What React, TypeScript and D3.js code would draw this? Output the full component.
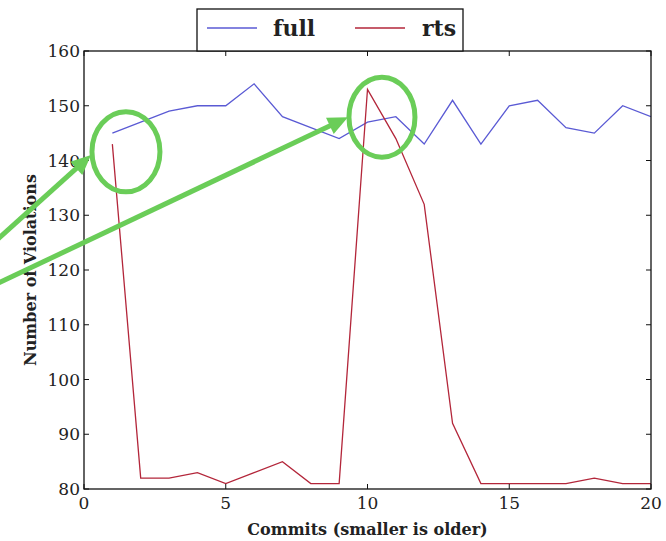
import React from "react";
import * as d3 from "d3";

const commits = [1, 2, 3, 4, 5, 6, 7, 8, 9, 10, 11, 12, 13, 14, 15, 16, 17, 18, 19, 20];
const fullValues = [145, 147, 149, 150, 150, 154, 148, 146, 144, 147, 148, 143, 151, 143, 150, 151, 146, 145, 150, 148];
const rtsValues = [143, 82, 82, 83, 81, 83, 85, 81, 81, 153, 144, 132, 92, 81, 81, 81, 81, 82, 81, 81];
const xTicks = [0, 5, 10, 15, 20];
const yTicks = [80, 90, 100, 110, 120, 130, 140, 150, 160];
const seriesNames = ["full", "rts"];
const seriesColors = ["#5a5ad4", "#b3263a"];

// annotation circles (data-space centers) and arrows (data-space tips)
const circles = [
  { x: 1.48, y: 141.6, rx: 34, ry: 40 },
  { x: 10.51, y: 147.9, rx: 33, ry: 40 },
];
const arrows = [
  { x: 0.25, y: 141.0, fromX: -12, fromY: 248 },
  { x: 9.31, y: 147.9, fromX: -12, fromY: 288 },
];

const W = 666;
const H = 541;
const m = { left: 84, right: 15, top: 51, bottom: 52 };

export default function App() {
  const x = d3.scaleLinear().domain([0, 20]).range([m.left, W - m.right]);
  const y = d3.scaleLinear().domain([80, 160]).range([H - m.bottom, m.top]);
  const line = d3
    .line<number>()
    .x((_, i) => x(commits[i]))
    .y((d) => y(d));
  const series = [fullValues, rtsValues];
  const green = "#6acd58";
  const font = "'DejaVu Serif', serif";
  const x0 = m.left;
  const x1 = W - m.right;
  const y0 = H - m.bottom;
  const y1 = m.top;

  const arrowPath = (a: typeof arrows[0]) => {
    const tx = x(a.x);
    const ty = y(a.y);
    const dx = tx - a.fromX;
    const dy = ty - a.fromY;
    const len = Math.hypot(dx, dy);
    const ux = dx / len;
    const uy = dy / len;
    const px = -uy;
    const py = ux;
    const headL = 20;
    const headW = 9;
    const bx = tx - ux * headL;
    const by = ty - uy * headL;
    return {
      shaft: [a.fromX, a.fromY, bx + ux * 2, by + uy * 2],
      head: `${tx},${ty} ${bx + px * headW},${by + py * headW} ${bx - px * headW},${by - py * headW}`,
    };
  };

  return (
    <svg
      width={W}
      height={H}
      style={{ position: "absolute", left: 0, top: 0, background: "#fff" }}
      fontFamily={font}
    >
      <rect x={0} y={0} width={W} height={H} fill="#fff" />
      <defs>
        <clipPath id="clip">
          <rect x={x0} y={y1} width={x1 - x0} height={y0 - y1} />
        </clipPath>
      </defs>
      {/* lines */}
      <g clipPath="url(#clip)">
        {series.map((s, i) => (
          <path key={i} d={line(s) || ""} fill="none" stroke={seriesColors[i]} strokeWidth={1.3} />
        ))}
      </g>
      {/* frame */}
      <rect x={x0} y={y1} width={x1 - x0} height={y0 - y1} fill="none" stroke="#111" strokeWidth={1.3} />
      {/* x ticks */}
      {xTicks.map((t) => (
        <g key={"x" + t}>
          <line x1={x(t)} x2={x(t)} y1={y0} y2={y0 - 5} stroke="#111" />
          <line x1={x(t)} x2={x(t)} y1={y1} y2={y1 + 5} stroke="#111" />
          <text x={x(t)} y={y0 + 20} fontSize={17} textAnchor="middle" fill="#222">
            {t}
          </text>
        </g>
      ))}
      {yTicks.map((t) => (
        <g key={"y" + t}>
          <line x1={x0} x2={x0 + 5} y1={y(t)} y2={y(t)} stroke="#111" />
          <line x1={x1} x2={x1 - 5} y1={y(t)} y2={y(t)} stroke="#111" />
          <text x={x0 - 4} y={y(t) + 6} fontSize={17} textAnchor="end" fill="#222">
            {t}
          </text>
        </g>
      ))}
      {/* axis labels */}
      <text x={(x0 + x1) / 2} y={535} fontSize={16} fontWeight="bold" textAnchor="middle" fill="#222">
        Commits (smaller is older)
      </text>
      <text
        transform={`translate(36, ${(y0 + y1) / 2}) rotate(-90)`}
        fontSize={16}
        fontWeight="bold"
        textAnchor="middle"
        fill="#222"
      >
        Number of Violations
      </text>
      {/* legend */}
      <rect x={197} y={9} width={266} height={42} fill="#fff" stroke="#111" strokeWidth={1.3} />
      {seriesNames.map((n, i) => (
        <g key={n}>
          <line x1={207 + i * 148} x2={257 + i * 148} y1={28} y2={28} stroke={seriesColors[i]} strokeWidth={1.5} />
          <text x={273 + i * 149} y={36} fontSize={22} fontWeight="bold" fill="#222">
            {n}
          </text>
        </g>
      ))}
      {/* annotations */}
      {circles.map((c, i) => (
        <ellipse key={"c" + i} cx={x(c.x)} cy={y(c.y)} rx={c.rx} ry={c.ry} fill="none" stroke={green} strokeWidth={5} />
      ))}
      {arrows.map((a, i) => {
        const p = arrowPath(a);
        return (
          <g key={"a" + i}>
            <line x1={p.shaft[0]} y1={p.shaft[1]} x2={p.shaft[2]} y2={p.shaft[3]} stroke={green} strokeWidth={5} />
            <polygon points={p.head} fill={green} />
          </g>
        );
      })}
    </svg>
  );
}
